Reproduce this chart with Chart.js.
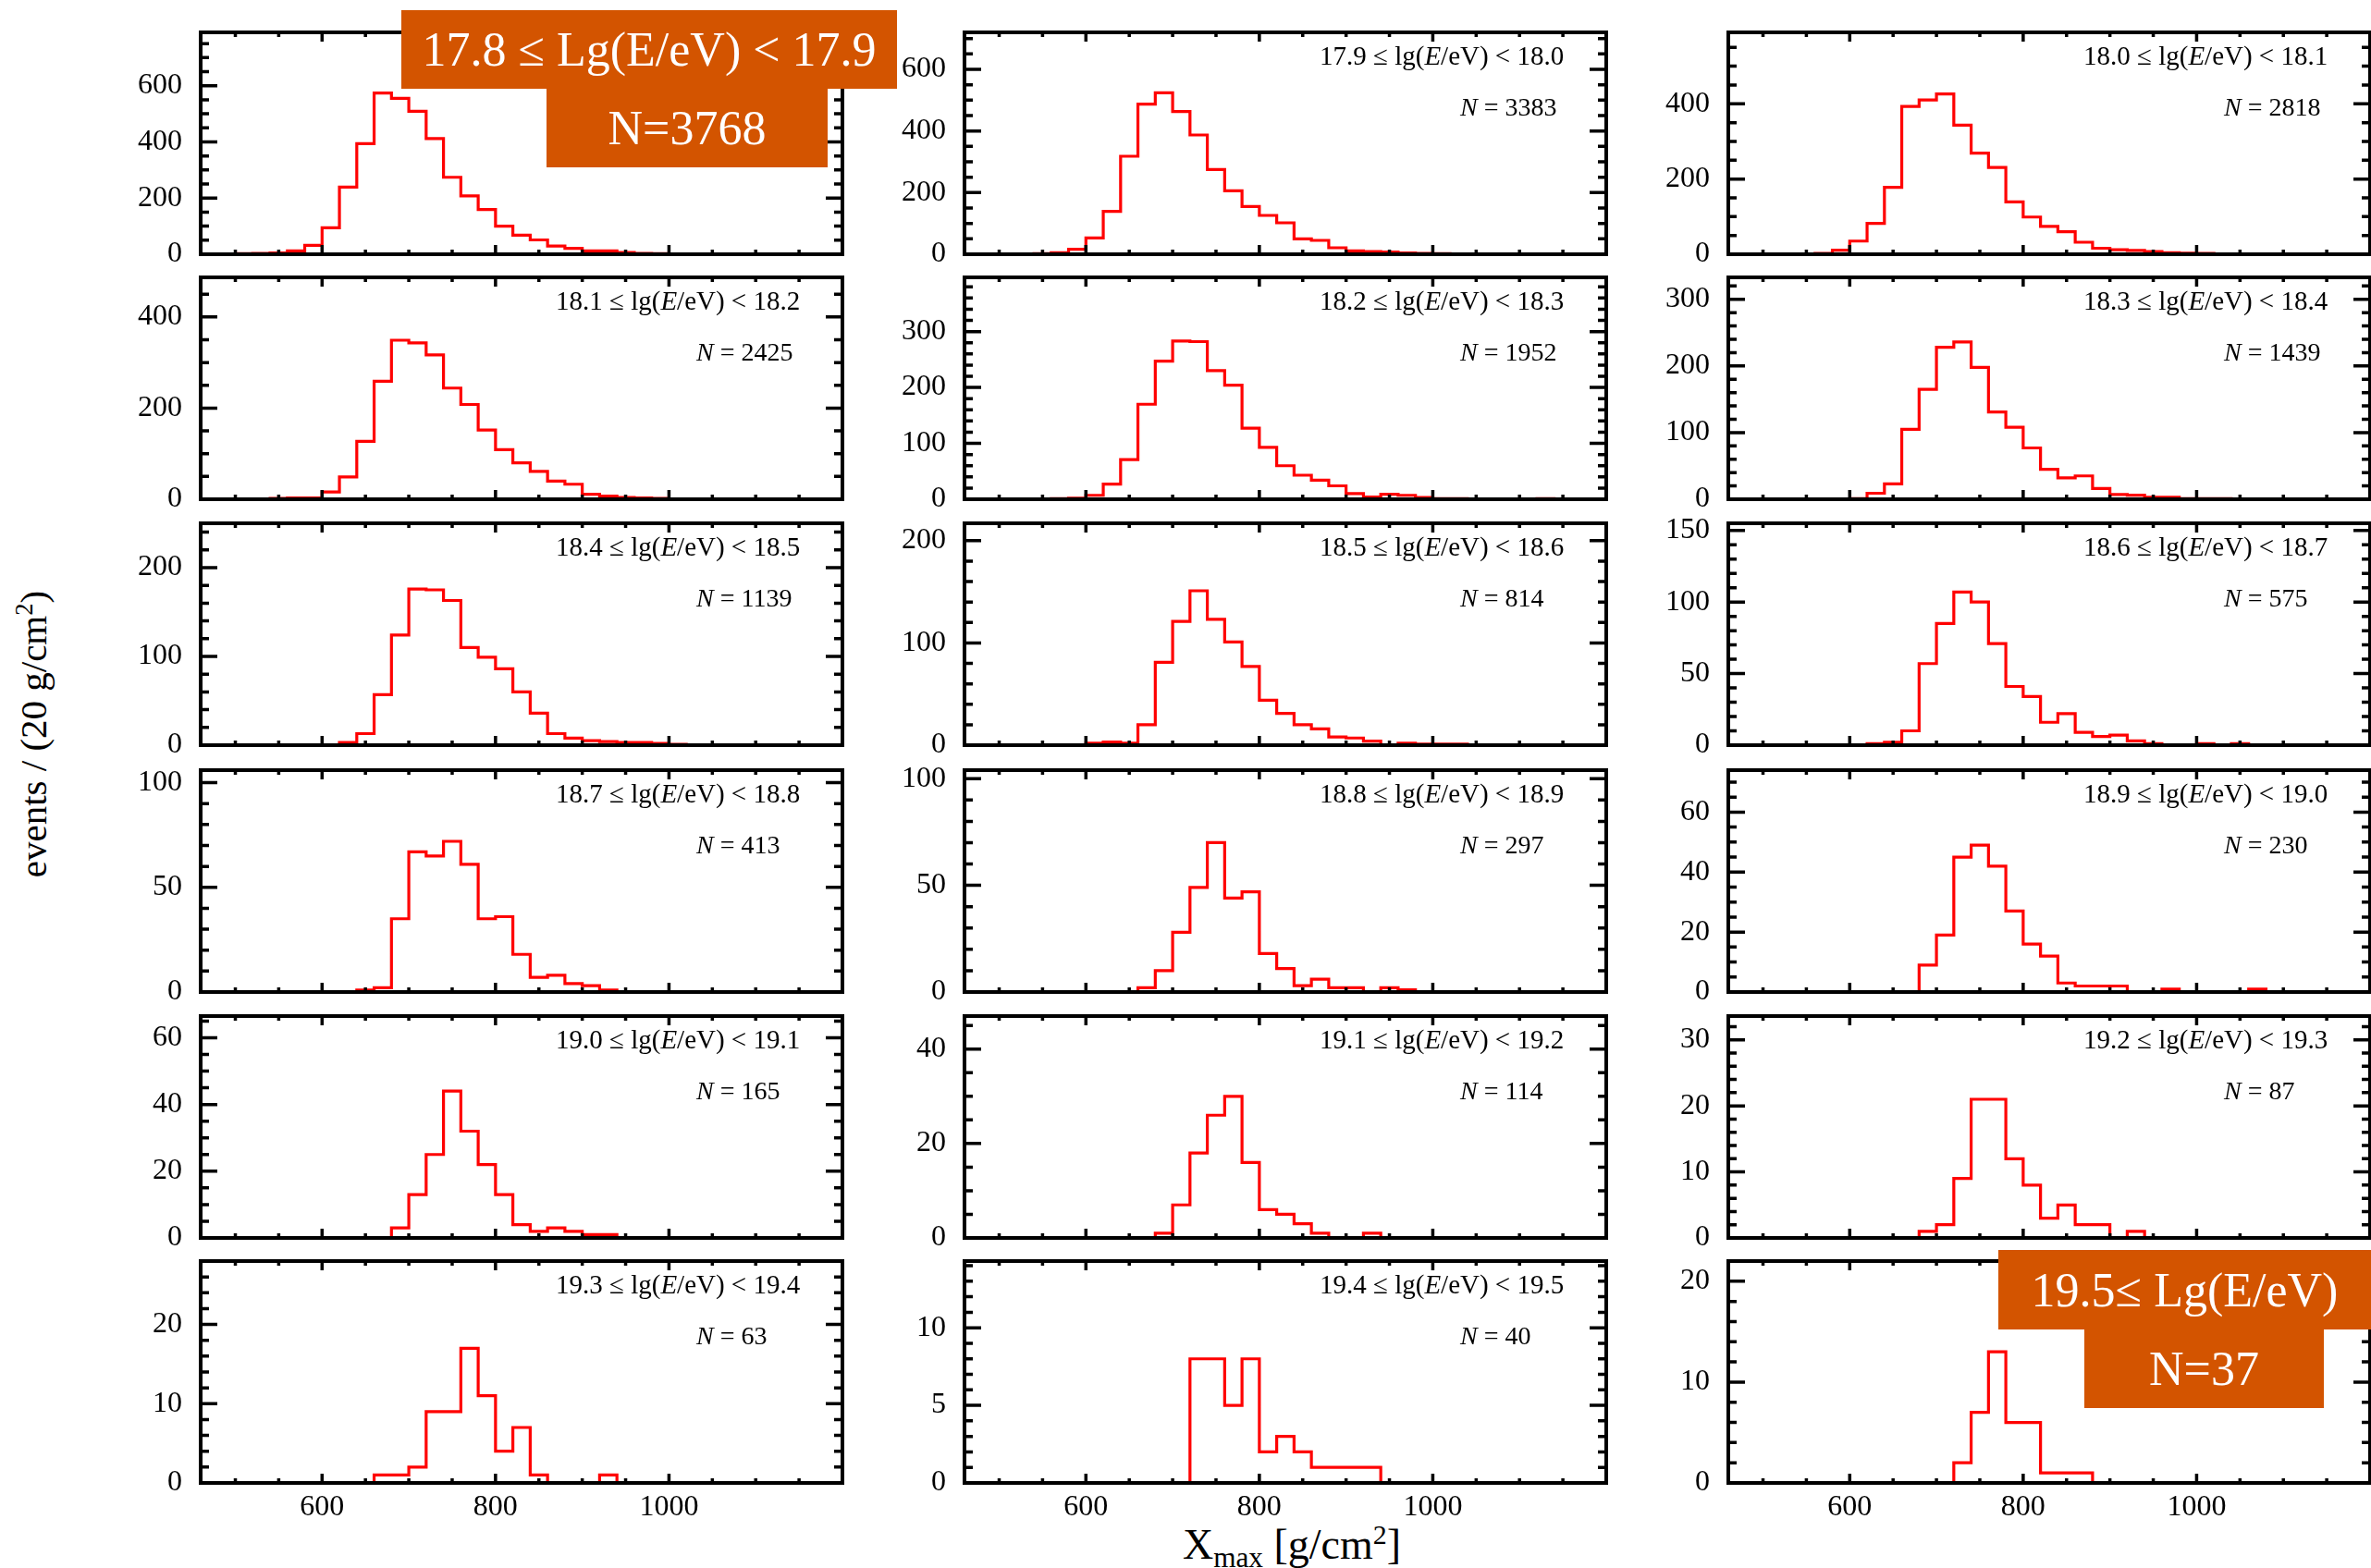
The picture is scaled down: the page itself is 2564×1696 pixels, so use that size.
<!DOCTYPE html>
<html>
<head>
<meta charset="utf-8">
<script src="https://cdn.jsdelivr.net/npm/chart.js@4.4.1/dist/chart.umd.min.js"></script>
<style>
html, body { margin: 0; padding: 0; background: #fff; }
#wrap { position: relative; width: 2564px; height: 1696px; overflow: hidden; background: #fff; font-family: "Liberation Serif", serif; color: #000; }
#wrap canvas { position: absolute; }
.box { position: absolute; background: #d35400; color: #fff; font-size: 52px; display: flex; align-items: center; justify-content: center; white-space: nowrap; z-index: 5; }
#ytitle { position: absolute; left: 36px; top: 794px; transform: translate(-50%, -50%) rotate(-90deg); font-size: 41px; white-space: nowrap; }
#xtitle { position: absolute; left: 1397px; top: 1648px; transform: translateX(-50%); font-size: 46px; line-height: 46px; white-space: nowrap; }
#xtitle sub { font-size: 0.68em; vertical-align: -0.28em; line-height: 0; }
sup { font-size: 0.65em; vertical-align: 0.55em; line-height: 0; }
</style>
</head>
<body>
<div id="wrap">
  <div id="ytitle">events / (20 g/cm<sup>2</sup>)</div>
  <div id="xtitle">X<sub>max</sub> [g/cm<sup>2</sup>]</div>
  <div class="box" style="left:434px;top:11px;width:536px;height:85px;">17.8 ≤ Lg(E/eV) &lt; 17.9</div>
  <div class="box" style="left:591px;top:96px;width:304px;height:85px;">N=3768</div>
  <div class="box" style="left:2161px;top:1352px;width:403px;height:86px;">19.5≤ Lg(E/eV)</div>
  <div class="box" style="left:2254px;top:1438px;width:259px;height:85px;">N=37</div>
</div>
<script>
// bin lower edges in g/cm2 (20 g/cm2 bins), last value is the upper edge
var binEdges = [460, 480, 500, 520, 540, 560, 580, 600, 620, 640, 660, 680, 700, 720, 740, 760, 780, 800, 820, 840,
    860, 880, 900, 920, 940, 960, 980, 1000, 1020, 1040, 1060, 1080, 1100, 1120, 1140, 1160, 1180, 1200];
var xTickLabels = [600, 800, 1000];

// events per bin, one array per energy bin
var c178 = [0,1,2,3,5,12,32,94,239,394,574,555,509,412,274,208,159,100,68,51,29,21,12,12,6,3,2,1,1,1,1,0,1,1,0,0,0];
var c179 = [0,0,0,1,2,5,16,53,139,318,487,524,463,387,275,206,155,126,102,50,45,21,11,9,7,4,3,2,1,1,0,0,0,0,0,0,0];
var c180 = [0,0,0,1,1,2,11,35,82,178,393,410,426,343,269,231,139,99,74,60,32,16,12,10,7,4,3,2,1,1,1,0,1,0,0,0,0];
var c181 = [0,0,0,1,2,3,3,16,49,127,259,349,343,317,244,208,152,109,80,61,40,33,11,7,4,3,2,1,1,1,0,1,0,0,0,0,0];
var c182 = [0,0,0,0,0,1,2,7,27,71,170,247,283,282,230,204,127,93,60,43,34,24,10,4,9,7,3,1,1,0,0,0,0,1,0,0,0];
var c183 = [0,0,0,0,0,0,0,1,9,23,105,165,228,236,198,131,108,77,45,32,35,16,7,6,3,3,1,1,1,0,0,0,0,0,0,0,0];
var c184 = [0,0,0,0,0,0,0,0,3,13,57,124,176,175,163,110,99,86,60,36,13,8,5,4,3,3,2,1,0,0,0,0,0,0,0,0,0];
var c185 = [0,0,0,0,0,0,0,2,3,2,20,81,121,151,123,101,77,44,31,20,16,8,7,4,0,2,1,1,1,0,0,0,0,0,0,0,0];
var c186 = [0,0,0,0,0,0,0,0,1,2,10,57,85,107,100,71,41,34,16,22,9,6,7,3,1,0,0,1,0,1,0,0,0,0,0,0,0];
var c187 = [0,0,0,0,0,0,0,0,0,1,2,35,67,65,72,61,35,36,18,7,8,4,3,1,0,0,0,0,0,0,0,0,0,0,0,0,0];
var c188 = [0,0,0,0,0,0,0,0,0,0,2,10,28,49,70,44,47,18,11,3,6,2,2,0,2,1,0,0,0,0,0,0,0,0,0,0,0];
var c189 = [0,0,0,0,0,0,0,0,0,0,0,9,19,45,49,42,27,16,12,3,2,2,2,0,0,1,0,0,0,0,1,0,0,0,0,0,0];
var c190 = [0,0,0,0,0,0,0,0,0,0,0,3,13,25,44,32,22,13,4,2,3,2,1,1,0,0,0,0,0,0,0,0,0,0,0,0,0];
var c191 = [0,0,0,0,0,0,0,0,0,0,0,1,7,18,26,30,16,6,5,3,1,0,0,1,0,0,0,0,0,0,0,0,0,0,0,0,0];
var c192 = [0,0,0,0,0,0,0,0,0,0,0,1,2,9,21,21,12,8,3,5,2,2,0,1,0,0,0,0,0,0,0,0,0,0,0,0,0];
var c193 = [0,0,0,0,0,0,0,0,0,0,1,1,2,9,9,17,11,4,7,1,0,0,0,1,0,0,0,0,0,0,0,0,0,0,0,0,0];
var c194 = [0,0,0,0,0,0,0,0,0,0,0,0,0,8,8,5,8,2,3,2,1,1,1,1,0,0,0,0,0,0,0,0,0,0,0,0,0];
var c195 = [0,0,0,0,0,0,0,0,0,0,0,0,0,2,7,13,6,6,1,1,1,0,0,0,0,0,0,0,0,0,0,0,0,0,0,0,0];

var binLow  = ['17.8','17.9','18.0','18.1','18.2','18.3','18.4','18.5','18.6','18.7','18.8','18.9','19.0','19.1','19.2','19.3','19.4','19.5'];
var binHigh = ['17.9','18.0','18.1','18.2','18.3','18.4','18.5','18.6','18.7','18.8','18.9','19.0','19.1','19.2','19.3','19.4','19.5',''];
var nEvents = [3768, 3383, 2818, 2425, 1952, 1439, 1139, 814, 575, 413, 297, 230, 165, 114, 87, 63, 40, 37];
var counts  = [c178, c179, c180, c181, c182, c183, c184, c185, c186, c187, c188, c189, c190, c191, c192, c193, c194, c195];
var yMax    = [790, 720, 590, 487, 397, 333, 250, 217, 155, 106, 104, 74, 66.5, 47, 33.6, 28, 14.3, 22];
var yMajor  = [200, 200, 200, 200, 100, 100, 100, 100, 50, 50, 50, 20, 20, 20, 10, 10, 5, 10];
var yMinor  = [50, 50, 50, 50, 20, 20, 20, 20, 10, 10, 10, 5, 5, 5, 2, 2, 1, 2];

var colLeft = [217, 1043, 1869];
var rowTop = [35, 300, 566, 833, 1099, 1364];
var plotW = 694, plotH = 240;
var axisW = 120, pad = 20, xAxisH = 70;
var fontFam = '"Liberation Serif", serif';

Chart.defaults.font.family = fontFam;
Chart.defaults.color = '#000';

var frameTicks = {
    id: 'frameTicks',
    afterDatasetsDraw(chart, args, opts) {
        var ctx = chart.ctx;
        var a = chart.chartArea;
        var sx = chart.scales.x, sy = chart.scales.y;
        ctx.save();
        ctx.strokeStyle = '#000';
        ctx.lineWidth = 3.5;
        ctx.beginPath();
        sy.ticks.forEach(function (t) {
            var py = sy.getPixelForValue(t.value);
            var len = (t.value % opts.major === 0) ? 18 : 9;
            ctx.moveTo(a.left, py); ctx.lineTo(a.left + len, py);
            ctx.moveTo(a.right, py); ctx.lineTo(a.right - len, py);
        });
        sx.ticks.forEach(function (t) {
            var px = sx.getPixelForValue(t.value);
            var len = (t.value % 200 === 0) ? 10 : 5;
            ctx.moveTo(px, a.bottom); ctx.lineTo(px, a.bottom - len);
            ctx.moveTo(px, a.top); ctx.lineTo(px, a.top + len);
        });
        ctx.stroke();
        ctx.lineWidth = 4;
        ctx.strokeRect(a.left, a.top, a.right - a.left, a.bottom - a.top);

        if (opts.label) {
            ctx.fillStyle = '#000';
            ctx.textAlign = 'left';
            ctx.textBaseline = 'alphabetic';
            var x = a.left + 384, y = a.top + 35;
            var parts = [[opts.lo + ' \u2264 lg(', ''], ['E', 'italic '], ['/eV) < ' + opts.hi, '']];
            parts.forEach(function (p) {
                ctx.font = p[1] + '29px ' + fontFam;
                ctx.fillText(p[0], x, y);
                x += ctx.measureText(p[0]).width;
            });
            x = a.left + 536; y = a.top + 90;
            ctx.font = 'italic 28px ' + fontFam;
            ctx.fillText('N', x, y);
            x += ctx.measureText('N').width;
            ctx.font = '28px ' + fontFam;
            ctx.fillText(' = ' + opts.n, x, y);
        }
        ctx.restore();
    }
};

function histPoints(c) {
    var pts = c.map(function (v, i) { return { x: binEdges[i], y: v }; });
    pts.push({ x: binEdges[c.length], y: c[c.length - 1] });
    return pts;
}

var wrap = document.getElementById('wrap');

for (var i = 0; i < 18; i++) {
    var r = Math.floor(i / 3), c = i % 3;
    var bottomRow = (r === 5);
    var cv = document.createElement('canvas');
    var W = axisW + plotW + pad;
    var H = pad + plotH + (bottomRow ? xAxisH : pad);
    cv.width = W; cv.height = H;
    cv.style.left = (colLeft[c] - axisW) + 'px';
    cv.style.top = (rowTop[r] - pad) + 'px';
    cv.style.width = W + 'px'; cv.style.height = H + 'px';
    wrap.appendChild(cv);

    (function (i, bottomRow) {
        new Chart(cv.getContext('2d'), {
            type: 'line',
            data: {
                datasets: [{
                    data: histPoints(counts[i]),
                    borderColor: '#ff0000',
                    borderWidth: 3.2,
                    pointRadius: 0,
                    stepped: true,
                    fill: false,
                    borderJoinStyle: 'miter'
                }]
            },
            options: {
                responsive: false,
                animation: false,
                events: [],
                layout: { padding: { left: 0, top: pad, right: pad, bottom: bottomRow ? 0 : pad } },
                plugins: {
                    legend: { display: false },
                    tooltip: { enabled: false },
                    frameTicks: {
                        major: yMajor[i],
                        label: i !== 0 && i !== 17,
                        lo: binLow[i], hi: binHigh[i], n: nEvents[i]
                    }
                },
                scales: {
                    x: {
                        type: 'linear',
                        min: 460, max: 1200,
                        grid: { display: false, drawTicks: false },
                        border: { display: false },
                        ticks: {
                            display: bottomRow,
                            stepSize: 50,
                            autoSkip: false,
                            maxRotation: 0,
                            includeBounds: false,
                            padding: 7,
                            font: { size: 32 },
                            callback: function (v) { return xTickLabels.indexOf(v) >= 0 ? String(v) : ''; }
                        },
                        afterFit: function (s) {
                            s.height = bottomRow ? xAxisH : 0;
                            s.paddingLeft = 0; s.paddingRight = 0;
                        }
                    },
                    y: {
                        min: 0, max: yMax[i],
                        grid: { display: false, drawTicks: false },
                        border: { display: false },
                        ticks: {
                            stepSize: yMinor[i],
                            autoSkip: false,
                            includeBounds: false,
                            padding: 20,
                            font: { size: 32 },
                            callback: function (v) { return v % yMajor[i] === 0 ? String(v) : ''; }
                        },
                        afterFit: function (s) {
                            s.width = axisW;
                            s.paddingTop = 0; s.paddingBottom = 0;
                        }
                    }
                }
            },
            plugins: [frameTicks]
        });
    })(i, bottomRow);
}
</script>
</body>
</html>
